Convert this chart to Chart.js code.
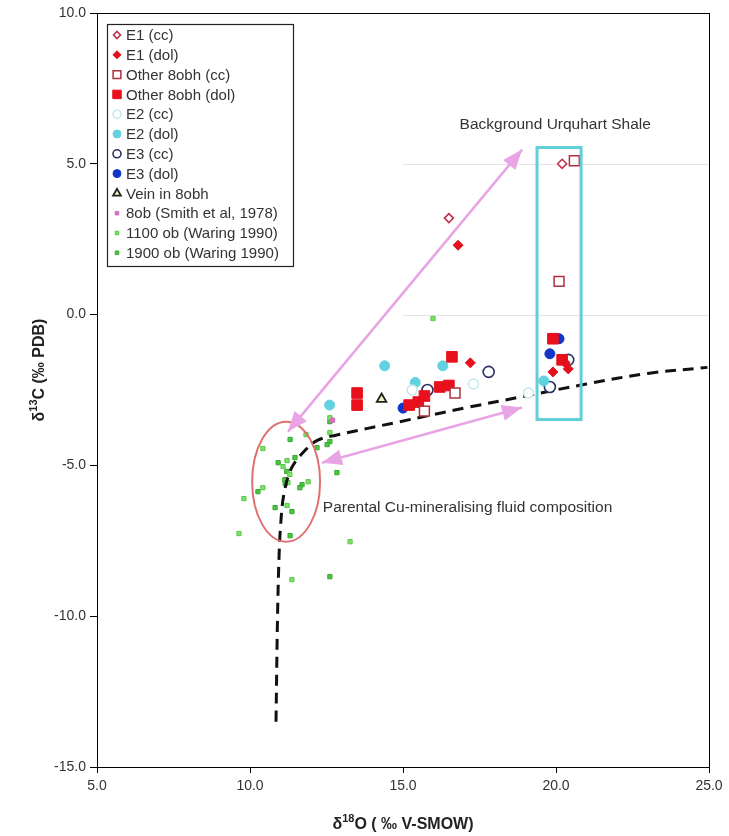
<!DOCTYPE html>
<html><head><meta charset="utf-8">
<script src="https://cdn.jsdelivr.net/npm/chart.js@4/dist/chart.umd.min.js"></script>
<style>html,body{margin:0;padding:0;background:#fff}#wrap{position:relative;width:729px;height:836px}</style>
</head><body><div id="wrap"><canvas id="c" width="729" height="836"></canvas></div>
<script>
// ---- data (δ18O, δ13C) ----
const xTicks = [5, 10, 15, 20, 25];
const yTicks = [-15, -10, -5, 0, 5, 10];
const e1cc = [[16.5, 3.2], [20.2, 5.0]];
const e1dol = [[16.8, 2.3], [17.2, -1.6], [19.9, -1.9], [20.3, -1.6], [20.4, -1.8]];
const other8obhCc = [[20.6, 5.1], [20.1, 1.1], [16.7, -2.6], [15.7, -3.2]];
const other8obhDol = [[16.6, -1.4], [13.5, -2.6], [13.5, -3.0], [15.2, -3.0], [15.5, -2.9], [15.7, -2.7], [16.2, -2.4], [16.5, -2.35], [19.9, -0.8], [20.2, -1.5]];
const e2cc = [[17.3, -2.3], [19.1, -2.6], [15.3, -2.5]];
const e2dol = [[14.4, -1.7], [16.3, -1.7], [15.4, -2.25], [12.6, -3.0], [19.6, -2.2]];
const e3cc = [[17.8, -1.9], [15.8, -2.5], [20.4, -1.5], [19.8, -2.4]];
const e3dol = [[15.0, -3.1], [20.1, -0.8], [19.8, -1.3]];
const vein8obh = [[14.3, -2.8]];
const smith1978 = [[12.7, -3.5]];
const waring1100 = [[12.61, -3.42], [12.61, -3.91], [11.83, -3.98], [10.42, -4.44], [11.21, -4.84], [11.08, -5.04], [11.24, -5.57], [11.9, -5.54], [10.42, -5.74], [9.8, -6.1], [11.21, -6.33], [9.64, -7.26], [13.27, -7.53], [11.37, -8.79], [15.98, -0.13], [11.3, -5.3]];
const waring1900 = [[12.61, -3.55], [12.61, -4.21], [12.52, -4.31], [11.31, -4.14], [10.92, -4.91], [11.47, -4.74], [11.14, -5.47], [11.7, -5.64], [11.63, -5.74], [10.26, -5.87], [10.82, -6.4], [11.37, -6.53], [11.31, -7.33], [12.84, -5.24], [12.61, -8.69], [12.19, -4.41], [11.2, -5.2], [11.15, -5.6]];
const mixingCurve = [[10.85, -13.5], [10.9, -10.0], [10.95, -8.0], [11.0, -7.0], [11.1, -6.0], [11.35, -5.1], [11.8, -4.5], [12.2, -4.17], [12.8, -4.0], [14.9, -3.55], [17.0, -3.1], [19.0, -2.7], [21.0, -2.3], [23.0, -1.95], [24.95, -1.75]];
// annotations (data units)
const shaleBox = [19.38, 5.54, 20.82, -3.48];
const fluidEllipse = [11.18, -5.54, 1.11, 1.99];
const arrows = [[11.24, -3.88, 18.89, 5.47], [12.35, -4.91, 18.89, -3.08]];
const refLines = [5, 0];
const labelShale = ['Background Urquhart Shale', 16.85, 6.3];
const labelFluid = ['Parental Cu-mineralising fluid composition', 12.38, -6.4];
const xTitle = ['δ', '18', 'O ( ‰ V-SMOW)'];
const yTitle = ['δ', '13', 'C (‰ PDB)'];

const P = a => a.map(p => ({x: p[0], y: p[1]}));
const FONT = "'Liberation Sans', Arial, sans-serif";

const datasets = [
  {label: 'E1 (cc)', data: P(e1cc), pointStyle: 'rectRot', radius: 4.5, backgroundColor: '#fff', borderColor: '#c0304a', borderWidth: 1.6, lr: 3.5},
  {label: 'E1 (dol)', data: P(e1dol), pointStyle: 'rectRot', radius: 5, backgroundColor: '#e4101c', borderColor: '#e4101c', borderWidth: 1, lr: 4},
  {label: 'Other 8obh (cc)', data: P(other8obhCc), pointStyle: 'rect', radius: 7, backgroundColor: '#fff', borderColor: '#b0303c', borderWidth: 1.5, lr: 5.5},
  {label: 'Other 8obh (dol)', data: P(other8obhDol), pointStyle: 'rect', radius: 7.5, backgroundColor: '#e8101c', borderColor: '#e8101c', borderWidth: 1, lr: 6},
  {label: 'E2 (cc)', data: P(e2cc), pointStyle: 'circle', radius: 5, backgroundColor: '#fff', borderColor: '#c4e8ef', borderWidth: 1.5, lr: 4},
  {label: 'E2 (dol)', data: P(e2dol), pointStyle: 'circle', radius: 5, backgroundColor: '#62d2e0', borderColor: '#62d2e0', borderWidth: 1, lr: 4},
  {label: 'E3 (cc)', data: P(e3cc), pointStyle: 'circle', radius: 5.5, backgroundColor: '#fff', borderColor: '#2a2e5e', borderWidth: 1.6, lr: 4},
  {label: 'E3 (dol)', data: P(e3dol), pointStyle: 'circle', radius: 5, backgroundColor: '#1436c8', borderColor: '#1436c8', borderWidth: 1, lr: 4},
  {label: 'Vein in 8obh', data: P(vein8obh), pointStyle: 'triangle', radius: 5.5, backgroundColor: '#f2f2c0', borderColor: '#222', borderWidth: 1.8, lr: 4.5},
  {label: '8ob (Smith et al, 1978)', data: P(smith1978), pointStyle: 'rect', radius: 3, backgroundColor: '#d070c0', borderColor: '#d070c0', borderWidth: 1, lr: 2.5},
  {label: '1100 ob (Waring 1990)', data: P(waring1100), pointStyle: 'rect', radius: 3, backgroundColor: '#7ce06a', borderColor: '#5cc84a', borderWidth: 1, lr: 2.5},
  {label: '1900 ob (Waring 1990)', data: P(waring1900), pointStyle: 'rect', radius: 3, backgroundColor: '#4cc840', borderColor: '#38a830', borderWidth: 1, lr: 2.5}
];
datasets.forEach((d, i) => { d.pointRadius = d.radius; d.pointHoverRadius = d.radius; d.order = i < 9 ? 0 : 2; });
datasets.push({label: '_curve', data: P(mixingCurve), showLine: true, borderColor: '#111', borderWidth: 3, borderDash: [11, 7], pointRadius: 0, tension: 0.35, order: 1, fill: false});

function drawRichText(ctx, parts, cx, cy) {
  const big = 'bold 16px ' + FONT, small = 'bold 11px ' + FONT;
  ctx.font = big; const w0 = ctx.measureText(parts[0]).width;
  ctx.font = small; const w1 = ctx.measureText(parts[1]).width;
  ctx.font = big; const w2 = ctx.measureText(parts[2]).width;
  let x = cx - (w0 + w1 + w2) / 2;
  ctx.textBaseline = 'middle'; ctx.textAlign = 'left'; ctx.fillStyle = '#222';
  ctx.font = big; ctx.fillText(parts[0], x, cy); x += w0;
  ctx.font = small; ctx.fillText(parts[1], x, cy - 6); x += w1;
  ctx.font = big; ctx.fillText(parts[2], x, cy);
}
function arrowHead(ctx, tx, ty, fx, fy) {
  const a = Math.atan2(ty - fy, tx - fx), L = 20, W = 8;
  ctx.beginPath();
  ctx.moveTo(tx, ty);
  ctx.lineTo(tx - L * Math.cos(a) + W * Math.sin(a), ty - L * Math.sin(a) - W * Math.cos(a));
  ctx.lineTo(tx - L * Math.cos(a) - W * Math.sin(a), ty - L * Math.sin(a) + W * Math.cos(a));
  ctx.closePath(); ctx.fill();
}
const deco = {
  id: 'deco',
  beforeDatasetsDraw(chart) {
    const {ctx, scales: {x, y}, chartArea: ca} = chart;
    ctx.save();
    ctx.strokeStyle = '#e4e4e4'; ctx.lineWidth = 1;
    refLines.forEach(v => { const py = Math.round(y.getPixelForValue(v)) + 0.5; ctx.beginPath(); ctx.moveTo(x.getPixelForValue(15), py); ctx.lineTo(ca.right, py); ctx.stroke(); });
    ctx.restore();
  },
  afterDatasetsDraw(chart) {
    const {ctx, scales: {x, y}, chartArea: ca} = chart;
    ctx.save();
    // cyan box
    ctx.strokeStyle = '#62cfd8'; ctx.lineWidth = 3;
    const bx1 = x.getPixelForValue(shaleBox[0]), by1 = y.getPixelForValue(shaleBox[1]);
    const bx2 = x.getPixelForValue(shaleBox[2]), by2 = y.getPixelForValue(shaleBox[3]);
    ctx.strokeRect(bx1, by1, bx2 - bx1, by2 - by1);
    // ellipse
    ctx.strokeStyle = '#e07070'; ctx.lineWidth = 2;
    ctx.beginPath();
    ctx.ellipse(x.getPixelForValue(fluidEllipse[0]), y.getPixelForValue(fluidEllipse[1]),
      x.getPixelForValue(fluidEllipse[0] + fluidEllipse[2]) - x.getPixelForValue(fluidEllipse[0]),
      y.getPixelForValue(fluidEllipse[1]) - y.getPixelForValue(fluidEllipse[1] + fluidEllipse[3]), 0, 0, Math.PI * 2);
    ctx.stroke();
    // arrows
    ctx.strokeStyle = '#e8a4e4'; ctx.fillStyle = '#e8a4e4'; ctx.lineWidth = 2.5;
    arrows.forEach(a => {
      const x1 = x.getPixelForValue(a[0]), y1 = y.getPixelForValue(a[1]);
      const x2 = x.getPixelForValue(a[2]), y2 = y.getPixelForValue(a[3]);
      ctx.beginPath(); ctx.moveTo(x1, y1); ctx.lineTo(x2, y2); ctx.stroke();
      arrowHead(ctx, x1, y1, x2, y2); arrowHead(ctx, x2, y2, x1, y1);
    });
    // labels
    ctx.fillStyle = '#333'; ctx.font = '15.5px ' + FONT; ctx.textBaseline = 'middle'; ctx.textAlign = 'left';
    ctx.fillText(labelShale[0], x.getPixelForValue(labelShale[1]), y.getPixelForValue(labelShale[2]));
    ctx.fillText(labelFluid[0], x.getPixelForValue(labelFluid[1]), y.getPixelForValue(labelFluid[2]));
    // frame
    ctx.strokeStyle = '#000'; ctx.lineWidth = 1;
    ctx.strokeRect(Math.round(ca.left) + 0.5, Math.round(ca.top) + 0.5, Math.round(ca.right - ca.left), Math.round(ca.bottom - ca.top));
    // legend
    const lx = 107, ly = 24, lw = 186, lh = 242, step = 19.8;
    ctx.fillStyle = '#fff'; ctx.fillRect(lx, ly, lw, lh);
    ctx.strokeStyle = '#222'; ctx.lineWidth = 1.2; ctx.strokeRect(lx + 0.5, ly + 0.5, lw, lh);
    ctx.font = '15px ' + FONT; ctx.textBaseline = 'middle';
    chart.data.datasets.filter(d => !d.label.startsWith('_')).forEach((d, i) => {
      const cy = ly + 11 + i * step;
      ctx.fillStyle = d.backgroundColor; ctx.strokeStyle = d.borderColor; ctx.lineWidth = d.borderWidth;
      Chart.helpers.drawPoint(ctx, {pointStyle: d.pointStyle, radius: d.lr, rotation: 0, borderWidth: d.borderWidth}, lx + 10, cy);
      ctx.fillStyle = '#333'; ctx.fillText(d.label, lx + 19, cy + 1);
    });
    // axis titles
    drawRichText(ctx, xTitle, (ca.left + ca.right) / 2 + 0, 825);
    ctx.translate(40, 370); ctx.rotate(-Math.PI / 2);
    drawRichText(ctx, yTitle, 0, 0);
    ctx.restore();
  }
};

new Chart(document.getElementById('c'), {
  type: 'scatter',
  data: {datasets},
  options: {
    responsive: false, animation: false, devicePixelRatio: 1,
    layout: {padding: {top: 13, right: 20, left: 0, bottom: 0}},
    plugins: {legend: {display: false}, tooltip: {enabled: false}},
    scales: {
      x: {type: 'linear', min: 5, max: 25,
        afterBuildTicks: s => { s.ticks = xTicks.map(v => ({value: v})); },
        ticks: {callback: v => v.toFixed(1), font: {family: FONT, size: 14}, color: '#333', padding: 5, maxRotation: 0},
        grid: {drawOnChartArea: false, drawTicks: true, tickLength: 6, color: '#000'},
        border: {color: '#000', width: 1},
        afterFit: s => { s.height = 69; }},
      y: {type: 'linear', min: -15, max: 10,
        afterBuildTicks: s => { s.ticks = yTicks.map(v => ({value: v})); },
        ticks: {callback: v => v.toFixed(1), font: {family: FONT, size: 14}, color: '#333', padding: 4},
        grid: {drawOnChartArea: false, drawTicks: true, tickLength: 7, color: '#000'},
        border: {color: '#000', width: 1},
        afterFit: s => { s.width = 97; }}
    }
  },
  plugins: [deco]
});
</script></body></html>
